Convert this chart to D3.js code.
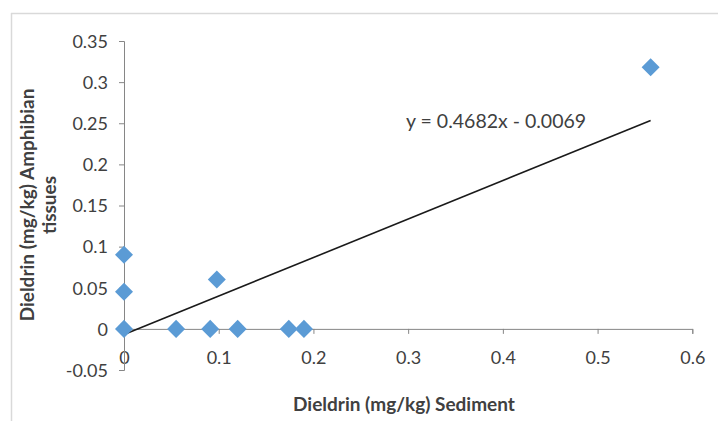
<!DOCTYPE html>
<html>
<head>
<meta charset="utf-8">
<script src="https://cdn.jsdelivr.net/npm/d3@7"></script>
<style>
  body { margin: 0; background: #fff; }
  text { font-family: Lato, "Open Sans", sans-serif; fill: #404040; }
</style>
</head>
<body>
<svg></svg>
<script>
// values
let sediment = [0, 0, 0, 0.098, 0.055, 0.091, 0.12, 0.174, 0.19, 0.556]
let tissue   = [0.09, 0.045, 0, 0.06, 0, 0, 0, 0, 0, 0.318]
let xTicks = [0, 0.1, 0.2, 0.3, 0.4, 0.5, 0.6]
let yTicks = [-0.05, 0, 0.05, 0.1, 0.15, 0.2, 0.25, 0.3, 0.35]
let slope = 0.4682
let intercept = -0.0069
let equation = 'y = 0.4682x - 0.0069'

let width = 718
let height = 421

let svg = d3.select('svg')
    .attr('width', width)
    .attr('height', height)

// chart frame edges (top + left)
svg.append('line')
   .attr('x1', 11).attr('y1', 13.5).attr('x2', width).attr('y2', 13.5)
   .attr('stroke', '#d9d9d9').attr('stroke-width', 1.5)
svg.append('line')
   .attr('x1', 11.5).attr('y1', 13).attr('x2', 11.5).attr('y2', height)
   .attr('stroke', '#d9d9d9').attr('stroke-width', 1.5)

let xScale = d3.scaleLinear().domain([0, 0.6]).range([124, 692.3])
let yScale = d3.scaleLinear().domain([-0.05, 0.35]).range([370, 41])

// plain hyphen for negatives, like the original
let fmt = d => String(+d.toFixed(2))

let xAxis = d3.axisBottom(xScale)
              .tickValues(xTicks)
              .tickFormat(fmt)
              .tickSizeOuter(0)
              .tickSize(5)
              .tickPadding(14)
let yAxis = d3.axisLeft(yScale)
              .tickValues(yTicks)
              .tickFormat(fmt)
              .tickSizeOuter(0)
              .tickSize(5)
              .tickPadding(11)

let gx = svg.append('g')
    .attr('transform', 'translate(0,' + yScale(0) + ')')
    .call(xAxis)
let gy = svg.append('g')
    .attr('transform', 'translate(' + xScale(0) + ',0)')
    .call(yAxis)

;[gx, gy].forEach(g => {
    g.select('.domain').attr('stroke', '#868686')
    g.selectAll('.tick line').attr('stroke', '#868686')
    g.selectAll('.tick text')
     .style('font-family', 'Lato, sans-serif')
     .style('font-size', '18px')
     .attr('fill', '#404040')
})
gx.selectAll('.tick text').attr('dy', '0.9em')
gy.selectAll('.tick text').attr('dy', '0.35em')

// trendline
let xs = [0, d3.max(sediment)]
svg.append('line')
   .attr('x1', xScale(xs[0])).attr('y1', yScale(slope * xs[0] + intercept))
   .attr('x2', xScale(xs[1])).attr('y2', yScale(slope * xs[1] + intercept))
   .attr('stroke', '#1a1a1a').attr('stroke-width', 1.6)

// points
let diamond = d3.symbol().type(d3.symbolSquare).size(162)
svg.selectAll('path.pt')
   .data(sediment.map((x, i) => [x, tissue[i]]))
   .enter()
   .append('path')
   .attr('class', 'pt')
   .attr('d', diamond)
   .attr('transform', d => 'translate(' + xScale(d[0]) + ',' + yScale(d[1]) + ') rotate(45)')
   .attr('fill', '#5b9bd5')

svg.append('text')
   .text(equation)
   .attr('x', 406)
   .attr('y', 121)
   .attr('dy', '0.35em')
   .style('font-size', '19.5px')

svg.append('text')
   .text('Dieldrin (mg/kg) Sediment')
   .attr('x', 404)
   .attr('y', 404)
   .attr('dy', '0.35em')
   .attr('text-anchor', 'middle')
   .style('font-size', '19px')
   .style('font-weight', 'bold')

let yTitle = svg.append('text')
   .attr('transform', 'translate(27,205) rotate(-90)')
   .attr('text-anchor', 'middle')
   .style('font-size', '19px')
   .style('font-weight', 'bold')
yTitle.append('tspan').attr('x', 0).attr('dy', '0.35em').text('Dieldrin (mg/kg) Amphibian')
yTitle.append('tspan').attr('x', 0).attr('dy', '1.2em').text('tissues')
</script>
</body>
</html>
